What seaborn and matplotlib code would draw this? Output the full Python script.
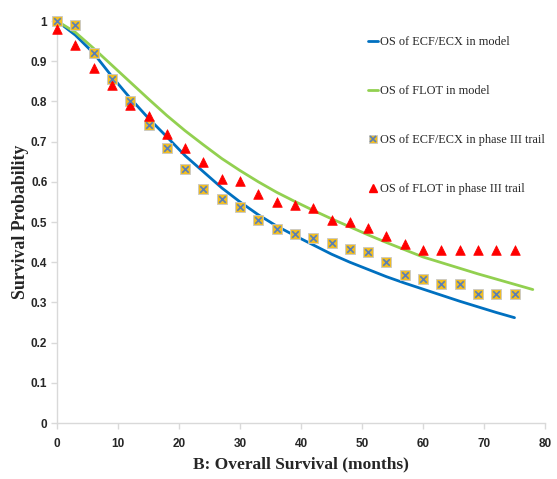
import matplotlib
matplotlib.use('Agg')
import matplotlib.pyplot as plt
from matplotlib.lines import Line2D
import pandas as pd
import seaborn as sns

# model curves
model_months_ecf = [0, 3, 6, 9, 12, 15, 18, 21, 24, 27, 30, 33, 36, 39, 42, 45, 48, 51, 54, 57, 60, 63, 66, 69, 72, 75]
model_ecf = [1.0, 0.965, 0.92, 0.862, 0.808, 0.758, 0.712, 0.665, 0.625, 0.585, 0.550, 0.518, 0.490, 0.466,
             0.443, 0.420, 0.400, 0.382, 0.364, 0.348, 0.333, 0.318, 0.303, 0.289, 0.275, 0.262]
model_months_flot = [0, 3, 6, 9, 12, 15, 18, 21, 24, 27, 30, 33, 36, 39, 42, 45, 48, 51, 54, 57, 60, 63, 66, 69, 72, 75, 78]
model_flot = [1.0, 0.972, 0.932, 0.89, 0.848, 0.806, 0.765, 0.727, 0.692, 0.658, 0.628, 0.600, 0.574, 0.551,
              0.529, 0.508, 0.488, 0.468, 0.449, 0.431, 0.413, 0.399, 0.385, 0.371, 0.358, 0.345, 0.332]

# phase III trial points
trial_months = [0, 3, 6, 9, 12, 15, 18, 21, 24, 27, 30, 33, 36, 39, 42, 45, 48, 51, 54, 57, 60, 63, 66, 69, 72, 75]
trial_ecf = [1.0, 0.99, 0.92, 0.855, 0.80, 0.742, 0.685, 0.632, 0.583, 0.557, 0.538, 0.505, 0.483, 0.469,
             0.459, 0.449, 0.434, 0.426, 0.401, 0.368, 0.358, 0.346, 0.346, 0.321, 0.321, 0.321]
trial_flot = [0.98, 0.94, 0.882, 0.842, 0.79, 0.764, 0.72, 0.683, 0.65, 0.607, 0.602, 0.57, 0.549, 0.543,
              0.535, 0.505, 0.50, 0.485, 0.465, 0.445, 0.43, 0.43, 0.43, 0.43, 0.43, 0.43]

labels = ['OS of ECF/ECX in model', 'OS of FLOT in model',
          'OS of ECF/ECX in phase III trail', 'OS of FLOT in phase III trail']

blue = '#0070C0'
green = '#92D050'
gold = '#F2BE22'
star = '#5A7FB5'
red = '#FF0000'

sns.set_style('white')
plt.rcParams['font.family'] = ['Liberation Sans', 'DejaVu Sans']

fig = plt.figure(figsize=(5.57, 4.79), dpi=100)
ax = fig.add_axes([57 / 557, 1 - 423 / 479, (545 - 57) / 557, (423 - 21) / 479])

df_ecf = pd.DataFrame({'month': model_months_ecf, 'os': model_ecf})
df_flot = pd.DataFrame({'month': model_months_flot, 'os': model_flot})
df_trial = pd.DataFrame({'month': trial_months, 'ecf': trial_ecf, 'flot': trial_flot})

sns.lineplot(data=df_ecf, x='month', y='os', color=blue, lw=2, ax=ax)
sns.lineplot(data=df_flot, x='month', y='os', color=green, lw=2, ax=ax)
sns.scatterplot(data=df_trial, x='month', y='ecf', marker='s', s=55, color=gold,
                edgecolor='#C8C8C8', linewidth=0.6, ax=ax, zorder=3, clip_on=False)
sns.scatterplot(data=df_trial, x='month', y='ecf', marker='x', s=22, color=star,
                linewidth=1.2, ax=ax, zorder=4, clip_on=False)
sns.scatterplot(data=df_trial, x='month', y='flot', marker='^', s=48, color=red,
                edgecolor=red, linewidth=0.5, ax=ax, zorder=3, clip_on=False)

ax.set_xlim(0, 80)
ax.set_ylim(0, 1)
ax.set_xticks(range(0, 81, 10))
ax.set_yticks([i / 10 for i in range(11)])
ax.set_yticklabels(['0'] + ['0.%d' % i for i in range(1, 10)] + ['1'])
for s in ['top', 'right']:
    ax.spines[s].set_visible(False)
for s in ['left', 'bottom']:
    ax.spines[s].set_color('#D9D9D9')
    ax.spines[s].set_linewidth(1)
ax.tick_params(axis='both', which='major', length=4, width=1, color='#D9D9D9',
               labelsize=8.5, bottom=True, left=True)
ax.tick_params(axis='x', pad=7)
ax.tick_params(axis='y', pad=3)
for t in ax.get_xticklabels() + ax.get_yticklabels():
    t.set_fontweight('bold')

ax.set_xlabel('B: Overall Survival (months)', family='Liberation Serif', fontweight='bold', fontsize=12.5)
ax.set_ylabel('Survival Probability', family='Liberation Serif', fontweight='bold', fontsize=12.8)
ax.xaxis.set_label_coords(0.5, -0.082)
ax.yaxis.set_label_coords(-0.057, 0.5)

h1 = Line2D([], [], color=blue, lw=2)
h2 = Line2D([], [], color=green, lw=2)
h3a = Line2D([], [], ls='', marker='s', ms=6, mfc=gold, mec='#C8C8C8', mew=0.6)
h3b = Line2D([], [], ls='', marker='x', ms=4, color=star, mew=1.2)
h4 = Line2D([], [], ls='', marker='^', ms=6, color=red)
fig.legend([h1, h2, (h3a, h3b), h4], labels, loc='upper left', bbox_to_anchor=(362 / 557, 1 - 30 / 479),
           frameon=False, prop={'family': 'Liberation Serif', 'size': 8.8},
           handlelength=0.8, handletextpad=0.15, labelspacing=3.02, borderpad=0)

fig.savefig('out.png', dpi=100)
